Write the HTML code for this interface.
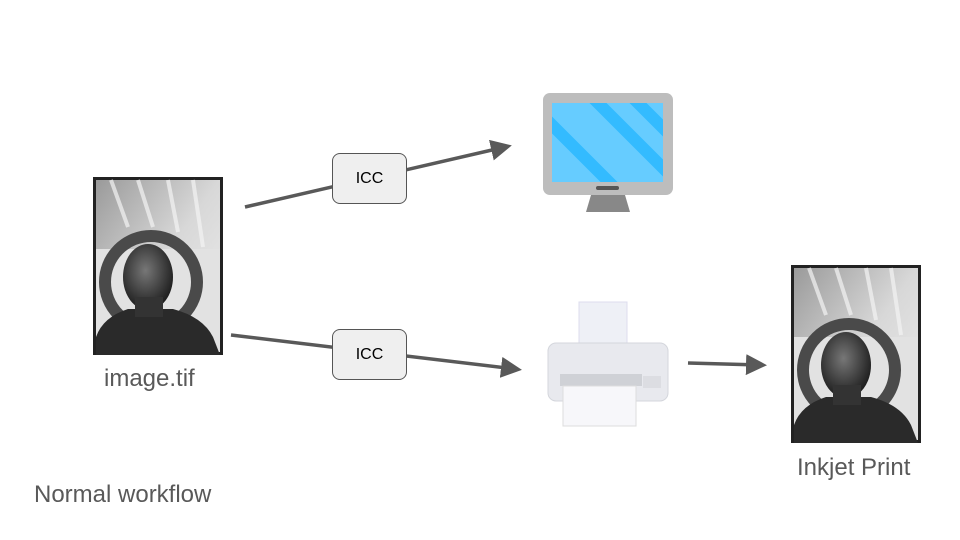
<!DOCTYPE html>
<html><head><style>
html,body{margin:0;padding:0;background:#fff;}
body{width:960px;height:540px;position:relative;overflow:hidden;font-family:"Liberation Sans",Arial,sans-serif;}
.t{position:absolute;color:#595959;font-size:24px;line-height:24px;white-space:nowrap;}
.icc{position:absolute;width:75px;height:51px;border:1px solid #555;border-radius:8px;background:#efefef;box-sizing:border-box;font-size:16px;color:#000;text-align:center;line-height:49px;}
</style></head><body>
<svg width="960" height="540" style="position:absolute;left:0;top:0">
<defs>
<linearGradient id="bg" x1="0" y1="0" x2="1" y2="1"><stop offset="0" stop-color="#9a9a9a"/><stop offset="0.5" stop-color="#d8d8d8"/><stop offset="1" stop-color="#eee"/></linearGradient>
<radialGradient id="hd" cx="0.45" cy="0.4" r="0.6"><stop offset="0" stop-color="#777"/><stop offset="1" stop-color="#1e1e1e"/></radialGradient>
<g id="photo">
<rect x="0" y="0" width="130" height="178" fill="#222"/>
<rect x="3" y="3" width="124" height="172" fill="url(#bg)"/>
<g stroke="#f4f4f4" stroke-width="4" opacity="0.7"><line x1="18" y1="3" x2="35" y2="50"/><line x1="45" y1="3" x2="60" y2="50"/><line x1="75" y1="3" x2="85" y2="55"/><line x1="100" y1="3" x2="110" y2="70"/></g>
<rect x="3" y="72" width="124" height="103" fill="#e2e2e2"/>
<circle cx="58" cy="105" r="46" fill="none" stroke="#4a4a4a" stroke-width="12"/>
<ellipse cx="55" cy="100" rx="25" ry="33" fill="url(#hd)"/>
<path d="M3 178 L3 160 Q10 140 35 132 L80 132 Q110 140 120 160 L127 178 Z" fill="#2a2a2a"/>
<rect x="42" y="120" width="28" height="20" fill="#333"/>
</g>
<marker id="ar" markerWidth="6" markerHeight="6" refX="4" refY="3" orient="auto" markerUnits="strokeWidth"><path d="M0,0 L6,3 L0,6 Z" fill="#595959"/></marker>
</defs>
<use href="#photo" x="93" y="177"/>
<use href="#photo" x="791" y="265"/>
<g stroke="#595959" stroke-width="3.5" fill="none">
<line x1="245" y1="207" x2="505" y2="147" marker-end="url(#ar)"/>
<line x1="231" y1="335" x2="515" y2="369" marker-end="url(#ar)"/>
<line x1="688" y1="363" x2="760" y2="365" marker-end="url(#ar)"/>
</g>
<rect x="543" y="93" width="130" height="102" rx="7" fill="#bdbdbd"/>
<rect x="552" y="103" width="111" height="79" fill="#66ccff"/>
<clipPath id="sc"><rect x="552" y="103" width="111" height="79"/></clipPath>
<g clip-path="url(#sc)" stroke="#33bbff" stroke-width="12"><line x1="545" y1="118" x2="620" y2="193"/><line x1="590" y1="95" x2="680" y2="185"/><line x1="630" y1="95" x2="690" y2="155"/></g>
<rect x="596" y="186" width="23" height="4" rx="2" fill="#555"/>
<path d="M591 195 L625 195 L630 212 L586 212 Z" fill="#888"/>
<rect x="579" y="302" width="48" height="48" fill="#eef0f6" stroke="#dde" />
<rect x="548" y="343" width="120" height="58" rx="8" fill="#e8e9ee" stroke="#d4d6dc"/>
<rect x="560" y="374" width="82" height="12" fill="#cfd1d6"/>
<rect x="563" y="386" width="73" height="40" fill="#f7f7fa" stroke="#ddd"/>
<rect x="643" y="376" width="18" height="12" fill="#dcdde2"/>
</svg>
<div class="icc" style="left:332px;top:153px">ICC</div>
<div class="icc" style="left:332px;top:329px">ICC</div>
<div class="t" style="left:104px;top:367px">image.tif</div>
<div class="t" style="left:797px;top:456px">Inkjet Print</div>
<div class="t" style="left:34px;top:483px">Normal workflow</div>
</body></html>
